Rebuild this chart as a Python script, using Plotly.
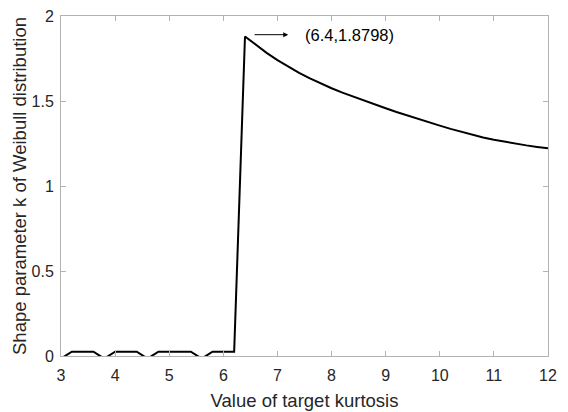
import plotly.graph_objects as go

kurtosis = [3.0, 3.2, 3.4, 3.6, 3.8, 4.0, 4.2, 4.4, 4.6, 4.8, 5.0, 5.2, 5.4, 5.6, 5.8, 6.0, 6.2,
            6.4, 6.6, 6.8, 7.0, 7.2, 7.4, 7.6, 7.8, 8.0, 8.2, 8.4, 8.6, 8.8, 9.0, 9.2, 9.4, 9.6, 9.8,
            10.0, 10.2, 10.4, 10.6, 10.8, 11.0, 11.2, 11.4, 11.6, 11.8, 12.0]
shape_k = [-0.015, 0.025, 0.025, 0.025, -0.015, 0.025, 0.025, 0.025, -0.015, 0.025, 0.025, 0.025, 0.025,
           -0.015, 0.025, 0.025, 0.025,
           1.8798, 1.829, 1.783, 1.741, 1.702, 1.666, 1.633, 1.603, 1.575, 1.549, 1.525, 1.502, 1.479,
           1.457, 1.435, 1.414, 1.394, 1.374, 1.355, 1.336, 1.318, 1.301, 1.285, 1.272, 1.260, 1.249,
           1.239, 1.230, 1.222]
x_ticks = [3, 4, 5, 6, 7, 8, 9, 10, 11, 12]
y_ticks = [0, 0.5, 1, 1.5, 2]
y_tick_text = ["0", "0.5", "1", "1.5", "2"]
peak_label = "(6.4,1.8798)"

FONT = "Liberation Sans, Arial, sans-serif"
AX = "#b3b3b3"
TXT = "#262626"

fig = go.Figure()
fig.add_trace(go.Scatter(x=kurtosis, y=shape_k, mode="lines",
                         line=dict(color="black", width=2), showlegend=False))

axis_common = dict(showgrid=False, zeroline=False, showline=True, linecolor=AX, linewidth=1,
                   mirror="ticks", ticks="inside", ticklen=5, tickcolor=AX, tickwidth=1,
                   automargin=False,
                   tickfont=dict(family=FONT, size=16, color=TXT))

fig.update_xaxes(range=[3, 12], tickvals=x_ticks, ticktext=[str(v) for v in x_ticks],
                 ticklabelstandoff=5,
                 title=dict(text="Value of target kurtosis", font=dict(family=FONT, size=18.5, color=TXT),
                            standoff=10),
                 **axis_common)
fig.update_yaxes(range=[0, 2], tickvals=y_ticks, ticktext=y_tick_text,
                 ticklabelstandoff=3,
                 title=dict(text="Shape parameter k of Weibull distribution",
                            font=dict(family=FONT, size=18.5, color=TXT), standoff=0),
                 **axis_common)

fig.add_annotation(x=7.2, y=1.89, ax=6.55, ay=1.89, xref="x", yref="y", axref="x", ayref="y",
                   text="", showarrow=True, arrowhead=2, arrowsize=1, arrowwidth=1, arrowcolor="black")
fig.add_annotation(x=7.47, y=1.89, xref="x", yref="y", text=peak_label, showarrow=False,
                   xanchor="left", yanchor="middle", font=dict(family=FONT, size=16.5, color="black"))

fig.update_layout(width=568, height=412, margin=dict(l=61, r=20, t=16, b=56),
                  paper_bgcolor="white", plot_bgcolor="white")
fig.write_html("out.html")
